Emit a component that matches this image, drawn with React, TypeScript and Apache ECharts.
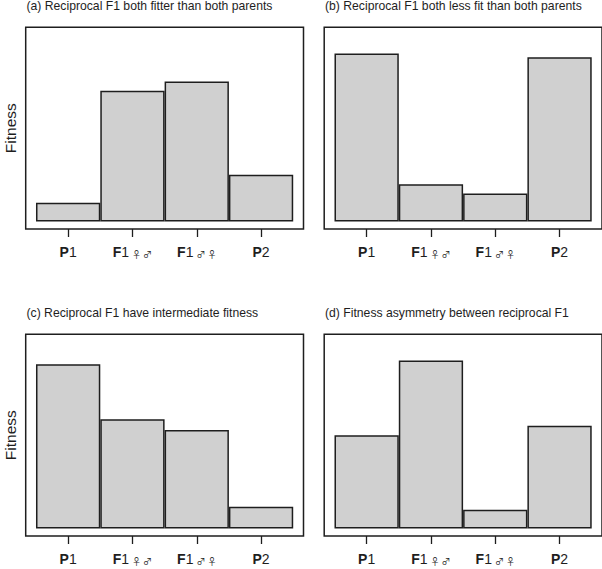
import React, { useEffect, useRef } from "react";
import * as echarts from "echarts";

const categories = ["P1", "F1♀♂", "F1♂♀", "P2"];
const panelTitles = [
  "(a) Reciprocal F1 both fitter than both parents",
  "(b) Reciprocal F1 both less fit than both parents",
  "(c) Reciprocal F1 have intermediate fitness",
  "(d) Fitness asymmetry between reciprocal F1",
];
const fitnessA = [1.0, 7.0, 7.5, 2.5];
const fitnessB = [9.0, 2.0, 1.5, 8.8];
const fitnessC = [8.8, 5.85, 5.27, 1.17];
const fitnessD = [5.0, 9.0, 1.0, 5.5];
const yLimit = 10;
const yLabel = "Fitness";

const panelData = [fitnessA, fitnessB, fitnessC, fitnessD];

const FONT = "'Liberation Sans', Arial, Helvetica, sans-serif";
const INK = "#1e1e1e";

export default function App() {
  const ref = useRef<HTMLDivElement>(null);

  useEffect(() => {
    if (!ref.current) return;
    const chart = echarts.init(ref.current, undefined, { renderer: "svg" });

    const boxW = 277.8;
    const boxH = 201.7;
    const lefts = [25.7, 324.2, 25.7, 324.2];
    const tops = [27.3, 27.3, 334.3, 334.3];
    const nCat = categories.length;
    const pad = nCat * 0.04;
    const xMin = -pad;
    const xMax = nCat + pad;
    const yPad = yLimit * 0.04;
    const pxPerUnit = boxW / (xMax - xMin);
    const centers = categories.map((_, i) => i + 0.5);

    const labelFormatter = (v: number) => {
      const c = categories[Math.round(v - 0.5)] || "";
      let s = `{b|${c[0]}}{n|${c[1]}}`;
      if (c.length > 2) {
        const sub = Array.from(c.slice(2)).join(" ");
        s += `{s|${sub}}`;
      }
      return s;
    };

    const grids = lefts.map((l, i) => ({
      left: l,
      top: tops[i],
      width: boxW,
      height: boxH,
      show: true,
      borderColor: INK,
      borderWidth: 1.5,
      backgroundColor: "transparent",
    }));

    const xAxes = lefts.map((_, i) => ({
      type: "value",
      gridIndex: i,
      position: "bottom",
      min: xMin,
      max: xMax,
      splitLine: { show: false },
      axisLine: { show: false, onZero: false },
      axisTick: {
        show: true,
        customValues: centers,
        length: 8,
        lineStyle: { color: INK, width: 1.3 },
      },
      axisLabel: {
        show: true,
        customValues: centers,
        margin: 16,
        formatter: labelFormatter,
        rich: {
          b: { fontFamily: FONT, fontSize: 14, fontWeight: "bold", color: INK, lineHeight: 14, verticalAlign: "bottom" },
          n: { fontFamily: FONT, fontSize: 14, color: INK, lineHeight: 14, verticalAlign: "bottom" },
          s: {
            fontFamily: "'Noto Sans CJK JP', 'DejaVu Sans', sans-serif",
            fontSize: 9,
            color: INK,
            lineHeight: 9,
            verticalAlign: "bottom",
            padding: [0, 0, 0, 3],
          },
        },
      },
    }));

    const yAxes = lefts.map((_, i) => ({
      type: "value",
      gridIndex: i,
      min: -yPad,
      max: yLimit + yPad,
      show: false,
    }));

    const series = panelData.map((vals, i) => ({
      type: "bar",
      xAxisIndex: i,
      yAxisIndex: i,
      barWidth: pxPerUnit,
      data: vals.map((v, j) => [centers[j], v]),
      itemStyle: { color: "#d0d0d0", borderColor: INK, borderWidth: 1.5 },
      silent: true,
    }));

    const graphics: any[] = [];
    panelTitles.forEach((t, i) => {
      graphics.push({
        type: "text",
        x: lefts[i] + 0.8,
        y: tops[i] - 21.0,
        style: {
          text: t,
          fontFamily: FONT,
          fontSize: 12.2,
          fill: INK,
          textAlign: "left",
          textVerticalAlign: "middle",
        },
      });
    });
    [0, 2].forEach((i) => {
      graphics.push({
        type: "text",
        x: 10,
        y: tops[i] + boxH / 2,
        rotation: Math.PI / 2,
        style: {
          text: yLabel,
          fontFamily: FONT,
          fontSize: 15.5,
          fill: INK,
          textAlign: "center",
          textVerticalAlign: "middle",
        },
      });
    });

    chart.setOption({
      animation: false,
      backgroundColor: "#ffffff",
      grid: grids,
      xAxis: xAxes,
      yAxis: yAxes,
      series,
      graphic: graphics,
    } as any);

    return () => chart.dispose();
  }, []);

  return (
    <div
      ref={ref}
      style={{ position: "fixed", left: 0, top: 0, width: 602, height: 569 }}
    />
  );
}
